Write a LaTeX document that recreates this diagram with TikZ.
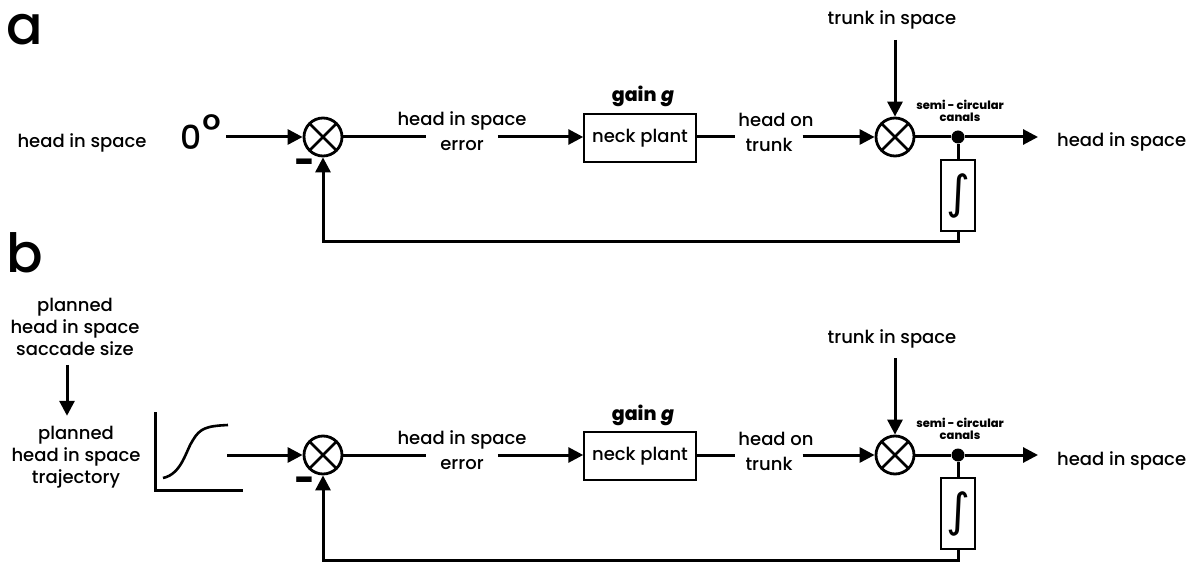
\documentclass[tikz,border=0pt]{standalone}
\usepackage{fontspec}
\IfFontExistsTF{Poppins Medium}{\setmainfont{Poppins Medium}[ItalicFont={Poppins Medium Italic}]}{\setmainfont{Poppins}}
\newfontfamily\djv{DejaVu Sans}
\usetikzlibrary{arrows.meta,calc}
\tikzset{
  wire/.style={line width=3pt},
  arr/.style={wire,-{Triangle[length=15pt,width=15pt]}},
  lbl/.style={font=\fontsize{18}{22}\selectfont,inner sep=0pt},
  big/.style={font=\fontsize{54}{54}\selectfont,inner sep=0pt,anchor=base west},
  sumnode/.style={circle,draw,line width=2.8pt,minimum size=38pt,inner sep=0pt,
    path picture={\draw[line width=2.8pt]
      (path picture bounding box.north west) -- (path picture bounding box.south east)
      (path picture bounding box.north east) -- (path picture bounding box.south west);}},
  blk/.style={draw,line width=1.5pt,inner sep=0pt},
}
\newcommand\loopcore{%
  \node[sumnode] (s1) at (323,137) {};
  \node[font=\fontsize{34}{34}\selectfont\bfseries,inner sep=0pt] (minus) at (305,166) {-};
  \node[lbl,anchor=base] (e1) at (462,126) {head in space};
  \node[lbl,anchor=base,inner xsep=14pt] (e2) at (462,151) {error};
  \node[blk,minimum width=112pt,minimum height=48pt,font=\fontsize{18}{22}\selectfont] (np) at (640,138) {neck plant};
  \node[lbl,anchor=base] (gain) at (643,102) {\fontsize{19}{22}\selectfont\bfseries gain\kern1pt\ \itshape g};
  \node[lbl,anchor=base] (t1) at (776,127) {head on};
  \node[lbl,anchor=base,inner xsep=10pt] (t2) at (769,152) {trunk};
  \node[sumnode] (s2) at (895,137) {};
  \node[lbl,anchor=base] (tis) at (892,25) {trunk in space};
  \coordinate (tin) at (895,40);
  \node[circle,fill,inner sep=0pt,minimum size=13pt] (dot) at (958,137) {};
  \node[font=\fontsize{11.5}{11.5}\selectfont\bfseries,align=center,inner sep=0pt] (scc) at (960,111) {semi - circular\\canals};
  \coordinate (oa) at (1038,137);
  \node[lbl,anchor=base west] (hout) at (1057,147) {head in space};
  \node[blk,minimum width=34pt,minimum height=71pt] (int) at (958,195.5) {};
  \node[font=\fontsize{46}{46}\selectfont\djv,inner sep=0pt] (intsym) at (int) {∫};
  \coordinate (fb) at (323,242);
  \draw[wire] (s1.east) -- (s1.east -| e2.west);
  \draw[arr] (s1.east -| e2.east) -- (s1.east -| np.west);
  \draw[wire] (s1.east -| np.east) -- (s1.east -| t2.west);
  \draw[arr] (s1.east -| t2.east) -- (s2.west);
  \draw[arr] (tin) -- (s2.north);
  \draw[wire] (s2.east) -- (dot);
  \draw[arr] (dot) -- (oa);
  \draw[wire] (dot) -- (int.north);
  \draw[arr] (int.south) |- (fb) -- (s1.south);
}
\begin{document}
\begin{tikzpicture}[x=1pt,y=-1pt]
\useasboundingbox (0,0) rectangle (1195,564);
% panel a
\node[big] (la) at (6,45) {a};
\node[lbl,anchor=base] (hisa) at (82,148) {head in space};
\node[anchor=base west,font=\fontsize{33}{33}\selectfont,inner sep=0pt] (zero) at (180,150) {0\kern1pt\raisebox{4pt}{\fontsize{44}{44}\selectfont °}};
\coordinate (a0) at (226,137);
\loopcore
\draw[arr] (a0) -- (s1.west);
% panel b
\node[big] (lb) at (6,273) {b};
\node[lbl,align=center] (plan1) at (75,327) {planned\\head in space\\saccade size};
\node[lbl,align=center] (plan2) at (76,457) {planned\\head in space\\trajectory};
\draw[arr,shorten <=9pt,shorten >=10pt] ([xshift=-8pt]plan1.south) -- ([xshift=-9pt]plan2.north);
\draw[wire] (155,412) -- (155,490) -- (243,490);
\draw[line width=2.6pt] (163,478) .. controls (182,474) and (186,450) .. (193,440) .. controls (200,428) and (207,426) .. (228,425);
\coordinate (b0) at (227,455);
\begin{scope}[yshift=-318pt,name prefix=b-]
\loopcore
\end{scope}
\draw[arr] (b0) -- (b-s1.west);
\end{tikzpicture}
\end{document}
